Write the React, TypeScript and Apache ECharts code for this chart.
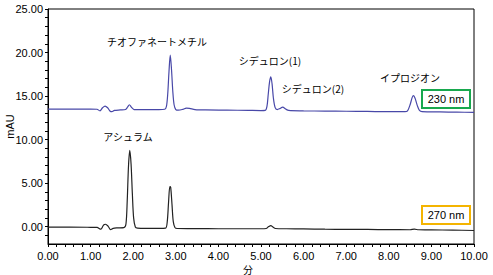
import React, { useEffect, useRef } from "react";
import * as echarts from "echarts";

// 230 nm trace (minutes, mAU)
const t230 = [0, 0.5, 1.0, 1.15, 1.22, 1.28, 1.34, 1.4, 1.46, 1.5, 1.56, 1.7, 1.82, 1.87, 1.91, 1.96, 2.02, 2.3, 2.6, 2.74, 2.78, 2.81, 2.84, 2.87, 2.9, 2.93, 2.96, 3.0, 3.06, 3.15, 3.25, 3.32, 3.45, 3.7, 4.2, 4.7, 5.0, 5.1, 5.14, 5.17, 5.2, 5.23, 5.26, 5.29, 5.33, 5.38, 5.44, 5.51, 5.58, 5.65, 6.0, 6.5, 7.0, 7.5, 8.0, 8.38, 8.44, 8.5, 8.55, 8.58, 8.62, 8.67, 8.72, 8.78, 9.2, 9.6, 10.0];
const v230 = [13.5, 13.5, 13.5, 13.48, 13.3, 13.65, 13.85, 13.65, 13.25, 13.2, 13.35, 13.4, 13.45, 13.75, 14.0, 13.7, 13.45, 13.45, 13.45, 13.48, 13.8, 15.2, 17.8, 19.7, 18.0, 15.5, 14.0, 13.45, 13.38, 13.45, 13.6, 13.58, 13.45, 13.4, 13.38, 13.35, 13.33, 13.35, 13.8, 15.2, 16.6, 17.2, 16.4, 14.8, 13.7, 13.45, 13.55, 13.72, 13.5, 13.35, 13.3, 13.27, 13.25, 13.23, 13.2, 13.2, 13.3, 14.0, 14.85, 15.05, 14.7, 13.9, 13.35, 13.2, 13.17, 13.15, 13.12];

// 270 nm trace
const t270 = [0, 0.5, 1.0, 1.15, 1.24, 1.3, 1.35, 1.41, 1.47, 1.53, 1.62, 1.78, 1.83, 1.86, 1.89, 1.92, 1.95, 1.98, 2.01, 2.05, 2.1, 2.3, 2.6, 2.76, 2.8, 2.83, 2.86, 2.88, 2.91, 2.94, 2.98, 3.03, 3.5, 4.0, 4.5, 5.0, 5.12, 5.18, 5.23, 5.28, 5.34, 5.6, 6.0, 6.5, 7.0, 7.5, 8.0, 8.5, 8.6, 8.7, 9.0, 9.5, 10.0];
const v270 = [-0.05, -0.05, -0.08, -0.1, -0.3, 0.15, 0.27, 0.05, -0.35, -0.2, -0.15, -0.12, 0.3, 3.0, 7.0, 8.75, 7.2, 3.8, 1.0, -0.05, -0.18, -0.2, -0.2, -0.18, 0.6, 2.8, 4.6, 4.5, 2.6, 0.6, -0.1, -0.22, -0.23, -0.25, -0.25, -0.25, -0.22, 0.0, 0.12, -0.05, -0.22, -0.25, -0.27, -0.3, -0.32, -0.33, -0.35, -0.36, -0.3, -0.36, -0.38, -0.4, -0.45];

const yLabelValues = [0, 5, 10, 15, 20, 25];
const yTickValues = [-1, 0, 1, 2, 3, 4, 5, 6, 7, 8, 9, 10, 11, 12, 13, 14, 15, 16, 17, 18, 19, 20, 21, 22, 23, 24, 25];

const peakLabels = [
  { text: "チオファネートメチル", x: 157, y: 41 },
  { text: "シデュロン(1)", x: 270, y: 60 },
  { text: "シデュロン(2)", x: 313, y: 88 },
  { text: "イプロジオン", x: 410, y: 77 },
  { text: "アシュラム", x: 128, y: 136 },
];

const wavelengthBoxes = [
  { text: "230 nm", x: 422, y: 90, color: "#18a84e" },
  { text: "270 nm", x: 422, y: 206, color: "#f4b400" },
];

export default function App() {
  const ref = useRef<HTMLDivElement>(null);
  useEffect(() => {
    const chart = echarts.init(ref.current!, null, { renderer: "svg" });
    const graphic: any[] = [];
    peakLabels.forEach((p) => {
      graphic.push({
        type: "text",
        x: p.x,
        y: p.y,
        style: {
          text: p.text,
          fill: "#000",
          font: '10px "Noto Sans CJK JP"',
          align: "center",
          verticalAlign: "middle",
        },
      });
    });
    wavelengthBoxes.forEach((b) => {
      graphic.push({
        type: "rect",
        shape: { x: b.x, y: b.y, width: 48, height: 18 },
        style: { fill: "#fff", stroke: b.color, lineWidth: 2 },
      });
      graphic.push({
        type: "text",
        x: b.x + 24,
        y: b.y + 9,
        style: {
          text: b.text,
          fill: "#000",
          font: '11px "Liberation Sans"',
          align: "center",
          verticalAlign: "middle",
        },
      });
    });
    chart.setOption({
      animation: false,
      backgroundColor: "#fff",
      grid: {
        left: 48,
        right: 19,
        top: 9,
        bottom: 31,
        outerBoundsMode: "none",
        containLabel: false,
        show: true,
        borderColor: "#000",
        borderWidth: 1,
      },
      xAxis: {
        type: "value",
        min: 0,
        max: 10,
        interval: 1,
        name: "分",
        nameLocation: "middle",
        nameGap: 20,
        nameMoveOverlap: false,
        nameTextStyle: {
          color: "#000",
          fontSize: 10,
          fontFamily: "Noto Sans CJK JP",
          padding: [0, 26, 0, 0],
        },
        axisLine: { onZero: false, lineStyle: { color: "#000", width: 1 } },
        axisTick: { show: true, length: 3, lineStyle: { color: "#000" } },
        minorTick: { show: true, splitNumber: 5, length: 3, lineStyle: { color: "#000" } },
        splitLine: { show: false },
        axisLabel: {
          color: "#000",
          fontSize: 11,
          fontFamily: "Liberation Sans",
          margin: 6,
          formatter: (v: number) => v.toFixed(2),
        },
      },
      yAxis: {
        type: "value",
        min: -2,
        max: 25,
        name: "mAU",
        nameLocation: "middle",
        nameGap: 33,
        nameMoveOverlap: false,
        nameRotate: 90,
        nameTextStyle: {
          color: "#000",
          fontSize: 11,
          fontFamily: "Liberation Sans",
        },
        axisLine: { show: true, lineStyle: { color: "#000", width: 1 } },
        axisTick: { show: true, length: 3, customValues: yTickValues, lineStyle: { color: "#000" } },
        splitLine: { show: false },
        axisLabel: {
          color: "#000",
          fontSize: 11,
          fontFamily: "Liberation Sans",
          margin: 5,
          customValues: yLabelValues,
          formatter: (v: number) => v.toFixed(2),
        },
      },
      series: [
        {
          type: "line",
          data: t230.map((t, i) => [t, v230[i]]),
          showSymbol: false,
          smooth: 0.3,
          lineStyle: { color: "#4848a8", width: 1.2 },
        },
        {
          type: "line",
          data: t270.map((t, i) => [t, v270[i]]),
          showSymbol: false,
          smooth: 0.3,
          lineStyle: { color: "#222", width: 1.2 },
        },
      ],
      graphic,
    });
    return () => chart.dispose();
  }, []);
  return (
    <div
      ref={ref}
      style={{ position: "fixed", left: 0, top: 0, width: 493, height: 275 }}
    />
  );
}
